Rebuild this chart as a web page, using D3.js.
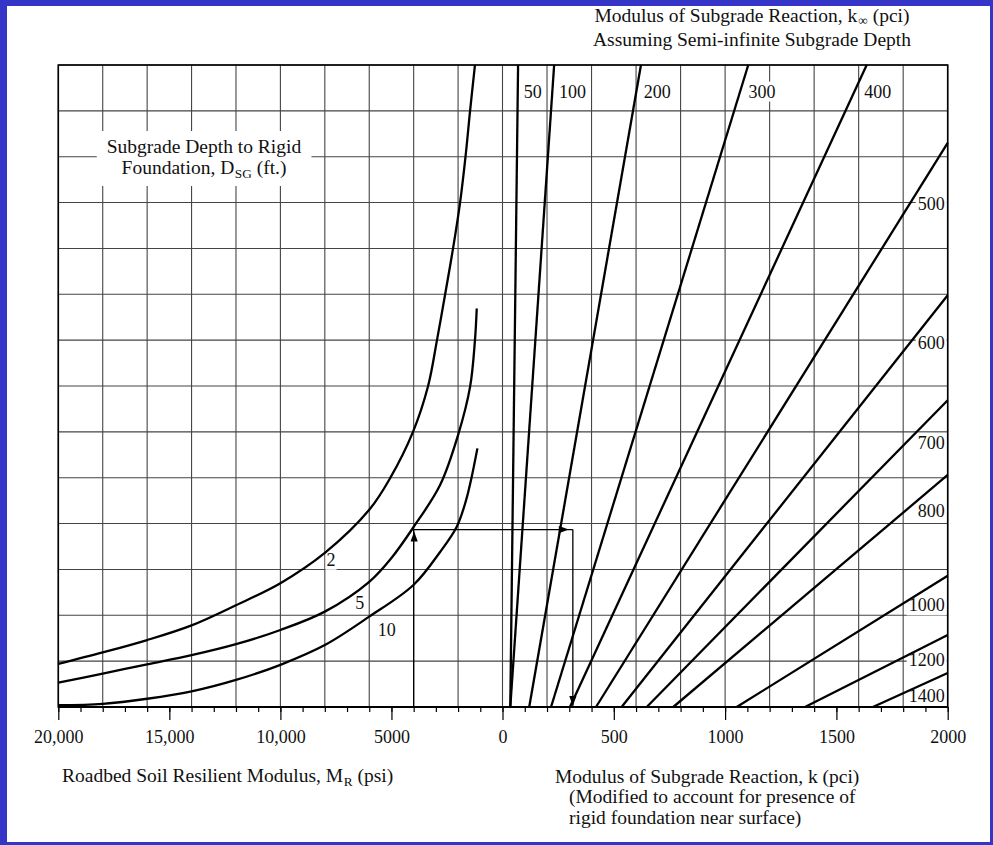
<!DOCTYPE html>
<html>
<head>
<meta charset="utf-8">
<script src="https://cdn.jsdelivr.net/npm/d3@7"></script>
<style>
  html, body { margin: 0; padding: 0; background: #fff; }
  svg { display: block; }
  text { font-family: "Liberation Serif", "Times New Roman", serif; fill: #111; }
</style>
</head>
<body>
<svg id="chart" width="993" height="845"></svg>
<script>
// ---- Axis values ----------------------------------------------------------
// Left half: roadbed soil resilient modulus M_R (psi), decreasing to the right
const mrTicks = [20000, 15000, 10000, 5000, 0];
const mrTickLabels = ["20,000", "15,000", "10,000", "5000", "0"];
// Right half: composite modulus of subgrade reaction k (pci)
const kTicks = [500, 1000, 1500, 2000];
const kTickLabels = ["500", "1000", "1500", "2000"];

// ---- Subgrade depth to rigid foundation curves (left half) ---------------
// Height is measured in grid rows (0 = bottom axis, 14 = top edge)
const depthValues = [2, 5, 10];
const depthMR = [
  [20000, 18000, 16000, 14000, 12000, 10000, 8000, 6000, 5060, 4030, 3350, 2950, 2590, 2230, 1910, 1665, 1460, 1240],
  [20000, 18000, 16000, 14000, 12000, 10000, 8000, 6000, 5000, 4010, 2810, 2000, 1460, 1240, 1160],
  [20000, 18000, 16000, 14000, 12000, 10000, 8000, 6000, 4010, 2810, 2060, 1640, 1400, 1130]
];
const depthHeight = [
  [0.94, 1.19, 1.46, 1.78, 2.22, 2.70, 3.36, 4.30, 4.99, 6.00, 7.00, 8.00, 8.98, 9.99, 11.00, 12.00, 13.00, 14.00],
  [0.53, 0.73, 0.93, 1.13, 1.37, 1.68, 2.08, 2.73, 3.25, 3.92, 4.84, 5.93, 6.98, 8.00, 8.69],
  [0.04, 0.07, 0.18, 0.34, 0.59, 0.92, 1.35, 1.97, 2.66, 3.38, 3.93, 4.51, 4.99, 5.64]
];

// ---- k-infinity lines (right half) ---------------------------------------
const kInfValues = [50, 100, 200, 300, 400, 500, 600, 700, 800, 1000, 1200, 1400];
const kInfBase   = [35, 35, 120, 218, 303, 420, 535, 648, 767, 1052, 1359, 1664];
const kInfEndK   = [70, 232, 622, 1104, 1636, 2000, 2000, 2000, 2000, 2000, 2000, 2000];
const kInfEndH   = [14, 14, 14, 14, 14, 12.3, 8.98, 6.69, 5.06, 2.86, 1.57, 0.74];

// ---- Worked example: M_R = 4000 psi, D_SG = 5 ft -> k ----------------------
const exampleMR = 4000;
const exampleH = 3.87;
const exampleK = 316;

// ---- Layout -----------------------------------------------------------------
const W = 993, H = 845;
const plot = { left: 58.3, mid: 502.5, right: 947.7, top: 65, bottom: 707 };

const xMR = d3.scaleLinear().domain([20000, 0]).range([plot.left, plot.mid]);
const xK  = d3.scaleLinear().domain([0, 2000]).range([plot.mid, plot.right]);
const yH  = d3.scaleLinear().domain([0, 14]).range([plot.bottom, plot.top]);

const svg = d3.select("#chart");

// page border
svg.append("rect").attr("width", W).attr("height", H).attr("fill", "#3535c8");
svg.append("rect").attr("x", 7).attr("y", 6).attr("width", 983).attr("height", 836).attr("fill", "#fff");

const layerGrid = svg.append("g");
const layerBg = svg.append("g");
const layerMarks = svg.append("g");
const layerFrame = svg.append("g");
const layerText = svg.append("g");

// ---- Grid -------------------------------------------------------------------
const gridStyle = g => g.attr("stroke", "#454545").attr("stroke-width", 1.1).attr("fill", "none");
const mrGrid = d3.range(0, 20001, 2000);
const kGrid = d3.range(200, 2001, 200);
const hGrid = d3.range(0, 15);

layerGrid.append("g").call(gridStyle).selectAll("line").data(mrGrid).join("line")
  .attr("x1", d => xMR(d)).attr("x2", d => xMR(d))
  .attr("y1", plot.top).attr("y2", plot.bottom);
layerGrid.append("g").call(gridStyle).selectAll("line").data(kGrid).join("line")
  .attr("x1", d => xK(d)).attr("x2", d => xK(d))
  .attr("y1", plot.top).attr("y2", plot.bottom);
layerGrid.append("g").call(gridStyle).selectAll("line").data(hGrid).join("line")
  .attr("x1", plot.left).attr("x2", plot.right)
  .attr("y1", d => yH(d)).attr("y2", d => yH(d));

// white patch behind a piece of text so grid lines stop short of it
function clearBehind(sel, padX, padY) {
  const b = sel.node().getBBox();
  layerBg.append("rect")
    .attr("x", b.x - padX).attr("y", b.y - padY)
    .attr("width", b.width + 2 * padX).attr("height", b.height + 2 * padY)
    .attr("fill", "#fff");
}

// text made of runs, some of them subscripts, laid out side by side
function richText(parent, x, y, anchor, size, parts, subDrop = 4) {
  const g = parent.append("g");
  const runs = parts.map(p => {
    const isSub = p.sub !== undefined;
    const t = g.append("text")
      .attr("y", y + (isSub ? subDrop : 0))
      .attr("font-size", isSub ? size * 0.68 : size)
      .text(isSub ? p.sub : p.t);
    return { t, gap: (p.gap || 0) * size, w: t.node().getComputedTextLength() };
  });
  const total = d3.sum(runs, r => r.w + r.gap);
  let cx = anchor === "middle" ? x - total / 2 : (anchor === "end" ? x - total : x);
  runs.forEach(r => { cx += r.gap; r.t.attr("x", cx); cx += r.w; });
  return g;
}

// ---- Depth curves -----------------------------------------------------------
const depthLine = d3.line()
  .x(d => xMR(d[0])).y(d => yH(d[1]))
  .curve(d3.curveCatmullRom.alpha(0.5));

depthValues.forEach((dv, i) => {
  const pts = depthMR[i].map((m, j) => [m, depthHeight[i][j]]);
  layerMarks.append("path").datum(pts)
    .attr("d", depthLine)
    .attr("fill", "none").attr("stroke", "#000").attr("stroke-width", 2.3);
});

// curve labels
const depthLabelPos = [[7720, 3.21], [6430, 2.27], [5210, 1.68]];
depthValues.forEach((dv, i) => {
  const t = layerText.append("text")
    .attr("x", xMR(depthLabelPos[i][0])).attr("y", yH(depthLabelPos[i][1]) + 6)
    .attr("text-anchor", "middle").attr("font-size", 18)
    .text(dv);
  clearBehind(t, 1, 0);
});

// ---- k-infinity lines -------------------------------------------------------
const kLine = d3.line().x(d => xK(d[0])).y(d => yH(d[1]));
kInfValues.forEach((kv, i) => {
  const pts = [[kInfBase[i], 0], [kInfEndK[i], kInfEndH[i]]];
  layerMarks.append("path").datum(pts)
    .attr("d", kLine)
    .attr("fill", "none").attr("stroke", "#000").attr("stroke-width", 2.3);
});

// labels: top edge for the steep lines, right edge for the flatter ones
const kAtH = (i, h) => kInfBase[i] + (kInfEndK[i] - kInfBase[i]) * h / kInfEndH[i];
const hAtK = (i, k) => kInfEndH[i] * (k - kInfBase[i]) / (kInfEndK[i] - kInfBase[i]);
kInfValues.forEach((kv, i) => {
  let t;
  if (kInfEndH[i] >= 14) {
    t = layerText.append("text")
      .attr("x", xK(kAtH(i, 13.6)) + 6).attr("y", yH(13.42) + 6)
      .attr("font-size", 18).text(kv);
  } else {
    const extra = kv >= 1000 ? 6 : (kv >= 700 ? 4 : 0);
    t = layerText.append("text")
      .attr("x", plot.right - 3).attr("y", yH(hAtK(i, 1830)) + 6 + extra)
      .attr("text-anchor", "end").attr("font-size", 18).text(kv);
  }
  clearBehind(t, 2, 0);
});

// ---- Worked example path ----------------------------------------------------
const ex = layerMarks.append("g").attr("stroke", "#000").attr("stroke-width", 1.3).attr("fill", "none");
const exX0 = xMR(exampleMR), exY = yH(exampleH), exX1 = xK(exampleK);
ex.append("line").attr("x1", exX0).attr("x2", exX0).attr("y1", plot.bottom).attr("y2", exY);
ex.append("line").attr("x1", exX0).attr("x2", exX1).attr("y1", exY).attr("y2", exY);
ex.append("line").attr("x1", exX1).attr("x2", exX1).attr("y1", exY).attr("y2", plot.bottom);

function arrowHead(x, y, angle) {
  // tip at (x, y), pointing along angle (degrees, 0 = right)
  layerMarks.append("path")
    .attr("d", "M0,0 L-10,-3.6 L-10,3.6 Z")
    .attr("transform", `translate(${x},${y}) rotate(${angle})`)
    .attr("fill", "#000");
}
arrowHead(exX0 + 0.5, exY + 2, -90);
arrowHead(exX1 - 4, exY, 0);
arrowHead(exX1, plot.bottom - 1, 90);

// ---- Frame and axes --------------------------------------------------------
layerFrame.append("rect")
  .attr("x", plot.left).attr("y", plot.top)
  .attr("width", plot.right - plot.left).attr("height", plot.bottom - plot.top)
  .attr("fill", "none").attr("stroke", "#000").attr("stroke-width", 1.6);

const axisMRMinor = d3.axisBottom(xMR).tickValues(d3.range(0, 20001, 1000)).tickSize(5).tickFormat("");
const axisMRMajor = d3.axisBottom(xMR).tickValues(mrTicks).tickSize(13).tickPadding(10)
  .tickFormat((d, i) => mrTickLabels[i]);
const axisKMinor = d3.axisBottom(xK).tickValues(d3.range(100, 2001, 100)).tickSize(5).tickFormat("");
const axisKMajor = d3.axisBottom(xK).tickValues(kTicks).tickSize(13).tickPadding(10)
  .tickFormat((d, i) => kTickLabels[i]);

[axisMRMinor, axisMRMajor, axisKMinor, axisKMajor].forEach(ax => {
  const g = layerFrame.append("g").attr("transform", `translate(0,${plot.bottom})`).call(ax);
  g.select(".domain").remove();
  g.selectAll(".tick line").attr("stroke", "#000").attr("stroke-width", 1.2);
  g.selectAll(".tick text")
    .attr("font-family", "'Liberation Serif', 'Times New Roman', serif")
    .attr("font-size", 18).attr("fill", "#111");
});

layerFrame.append("line")
  .attr("x1", plot.left).attr("x2", plot.right)
  .attr("y1", plot.bottom).attr("y2", plot.bottom)
  .attr("stroke", "#000").attr("stroke-width", 2.2);

// ---- Titles -----------------------------------------------------------------
// top-right heading
richText(layerText, 752, 22, "middle", 19.5,
  [{ t: "Modulus of Subgrade Reaction, k" }, { sub: "\u221E", gap: 0.06 }, { t: "(pci)", gap: 0.25 }], 3);
layerText.append("text").attr("x", 752).attr("y", 46)
  .attr("text-anchor", "middle").attr("font-size", 19.5)
  .text("Assuming Semi-infinite Subgrade Depth");

// depth legend inside the grid
const depthTitle = layerText.append("g");
depthTitle.append("text").attr("x", 204).attr("y", 153)
  .attr("text-anchor", "middle").attr("font-size", 19.5)
  .text("Subgrade Depth to Rigid");
richText(depthTitle, 204, 174, "middle", 19.5,
  [{ t: "Foundation, D" }, { sub: "SG", gap: 0.03 }, { t: "(ft.)", gap: 0.25 }]);
clearBehind(depthTitle, 10, 5);

// bottom-left axis title
richText(layerText, 62, 782, "start", 19.5,
  [{ t: "Roadbed Soil Resilient Modulus, M" }, { sub: "R", gap: 0.03 }, { t: "(psi)", gap: 0.25 }]);

// bottom-right axis title
layerText.append("text").attr("x", 555).attr("y", 783).attr("font-size", 19.5)
  .text("Modulus of Subgrade Reaction, k (pci)");
layerText.append("text").attr("x", 569).attr("y", 803).attr("font-size", 19.5)
  .text("(Modified to account for presence of");
layerText.append("text").attr("x", 569).attr("y", 824).attr("font-size", 19.5)
  .text("rigid foundation near surface)");
</script>
</body>
</html>
